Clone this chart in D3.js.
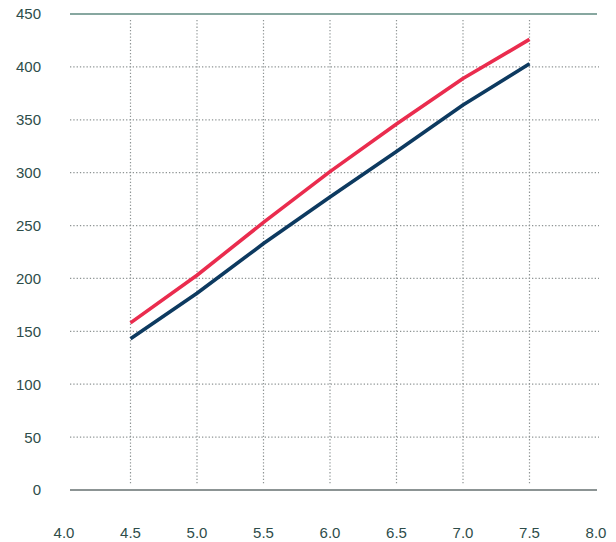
<!DOCTYPE html>
<html><head><meta charset="utf-8">
<script src="https://cdn.jsdelivr.net/npm/d3@7"></script>
<style>body{margin:0;background:#fff;}svg{display:block;}</style>
</head><body>
<svg id="c" width="616" height="542"></svg>
<script>
const xValues = [4.5, 5.0, 5.5, 6.0, 6.5, 7.0, 7.5];
const redSeries = [158, 203, 253, 301, 346, 389, 426];
const blueSeries = [143, 186, 233, 277, 320, 364, 403];
const xTicks = [4.0, 4.5, 5.0, 5.5, 6.0, 6.5, 7.0, 7.5, 8.0];
const yTicks = [0, 50, 100, 150, 200, 250, 300, 350, 400, 450];
const xGrid = [4.5, 5.0, 5.5, 6.0, 6.5, 7.0, 7.5];
const yGrid = [50, 100, 150, 200, 250, 300, 350, 400];

const svg = d3.select("#c");
const x = d3.scaleLinear().domain([4.0, 8.0]).range([64, 596]);
const y = d3.scaleLinear().domain([0, 450]).range([490, 14]);
const labelColor = "#2e4d4a";
const font = "'Liberation Sans', Arial, sans-serif";

svg.append("g").selectAll("line").data(yGrid).join("line")
  .attr("x1", 70).attr("x2", 599)
  .attr("y1", d => y(d)).attr("y2", d => y(d))
  .attr("stroke", "#8e9494").attr("stroke-width", 1.2)
  .attr("stroke-dasharray", "1.3,2");

svg.append("g").selectAll("line").data(xGrid).join("line")
  .attr("x1", d => x(d)).attr("x2", d => x(d))
  .attr("y1", 20).attr("y2", 484)
  .attr("stroke", "#8e9494").attr("stroke-width", 1.2)
  .attr("stroke-dasharray", "1.3,2");

svg.append("line").attr("x1", 70).attr("x2", 597)
  .attr("y1", y(450)).attr("y2", y(450))
  .attr("stroke", "#5f8a80").attr("stroke-width", 1.6);
svg.append("line").attr("x1", 70).attr("x2", 597)
  .attr("y1", y(0)).attr("y2", y(0))
  .attr("stroke", "#8c9494").attr("stroke-width", 2);

svg.append("g").selectAll("text").data(yTicks).join("text")
  .attr("x", 41).attr("y", d => y(d)).attr("dy", "0.36em")
  .attr("text-anchor", "end").attr("font-family", font)
  .attr("font-size", 15).attr("fill", labelColor)
  .text(d => d);

svg.append("g").selectAll("text").data(xTicks).join("text")
  .attr("x", d => x(d)).attr("y", 533).attr("dy", "0.36em")
  .attr("text-anchor", "middle").attr("font-family", font)
  .attr("font-size", 15).attr("fill", labelColor)
  .text(d => d3.format(".1f")(d));

const line = d3.line().x((d, i) => x(xValues[i])).y(d => y(d)).curve(d3.curveLinear);

svg.append("path").datum(blueSeries).attr("d", line)
  .attr("fill", "none").attr("stroke", "#0d3a60").attr("stroke-width", 3.6)
  .attr("stroke-linejoin", "round");
svg.append("path").datum(redSeries).attr("d", line)
  .attr("fill", "none").attr("stroke", "#ea2c4e").attr("stroke-width", 3.6)
  .attr("stroke-linejoin", "round");
</script>
</body></html>
